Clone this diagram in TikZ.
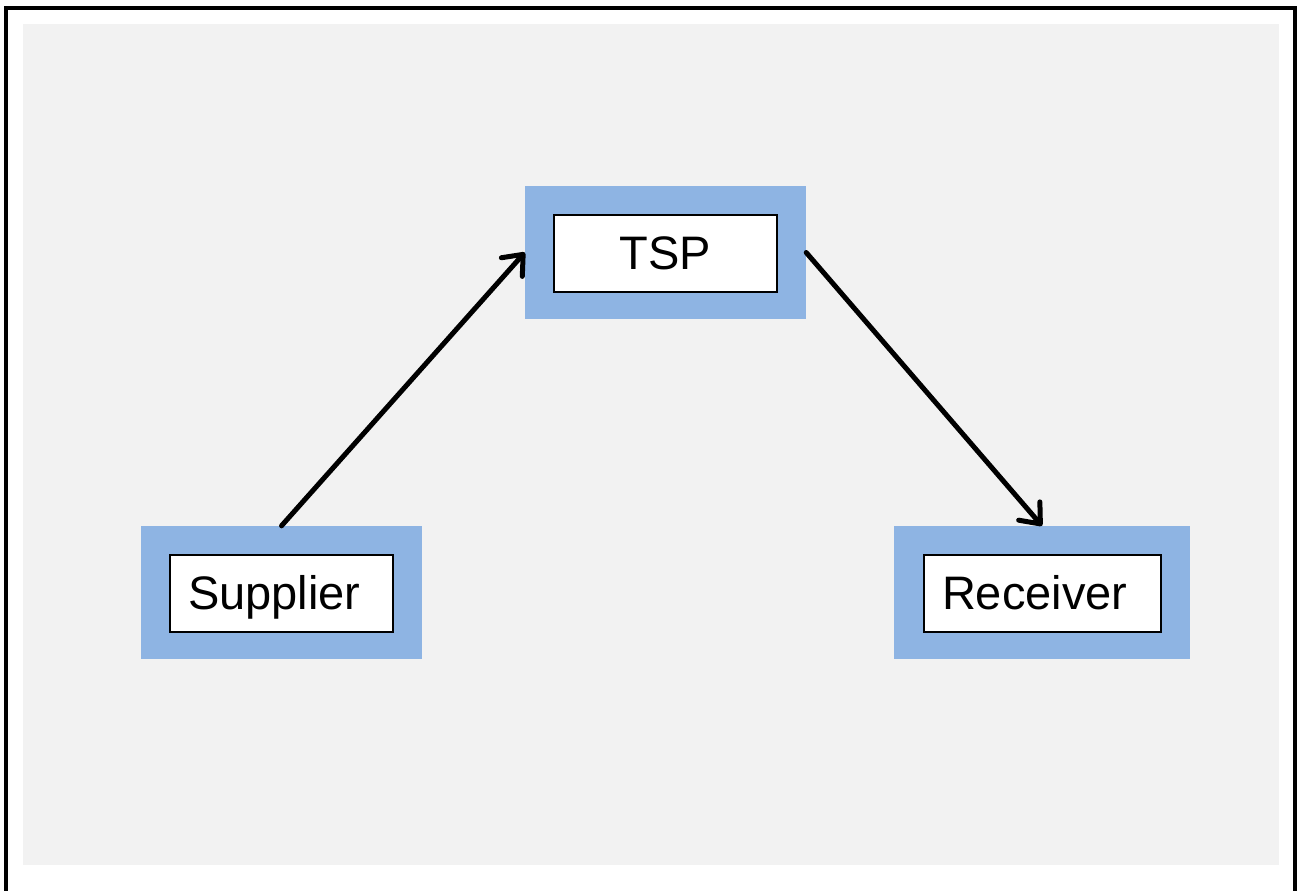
\documentclass[tikz,border=0pt]{standalone}
\usepackage{fontspec}
\setmainfont{Liberation Sans}
\usetikzlibrary{arrows.meta}
\definecolor{panelgray}{HTML}{F2F2F2}
\definecolor{frameblue}{HTML}{8EB4E3}
\tikzset{
  outerbox/.style={fill=frameblue, draw=none, minimum height=133pt, inner sep=0pt},
  innerbox/.style={fill=white, draw=black, line width=2pt, minimum height=77pt,
    text height=40pt, text depth=9pt, inner ysep=0pt,
    font=\fontsize{47}{56}\selectfont},
  flow/.style={line width=5pt, line cap=round,
    -{Straight Barb[length=17pt,width=28pt,line join=round,line cap=round]}}
}
\begin{document}
\begin{tikzpicture}[x=1pt,y=-1pt]
  \useasboundingbox (0,0) rectangle (1298,891);
  \fill[white] (0,0) rectangle (1298,891);
  % frame and panel
  \draw[line width=3.2pt] (6,891) -- (6,8) -- (1295,8) -- (1295,891);
  \fill[panelgray] (23,24) rectangle (1279,865);

  % blue surrounds
  \node[outerbox, minimum width=281pt] (tsp) at (665.5,252.5) {};
  \node[outerbox, minimum width=281pt] (sup) at (281.5,592.5) {};
  \node[outerbox, minimum width=296pt] (rec) at (1042,592.5) {};

  % labelled boxes
  \node[innerbox, minimum width=223pt, inner xsep=0pt, text width=221pt, align=center]
    (tspl) at (665.5,253.5) {TSP};
  \node[innerbox, minimum width=223pt, inner xsep=18pt, text width=187pt, align=left]
    (supl) at (281.5,593.5) {Supplier};
  \node[innerbox, minimum width=237pt, inner xsep=18pt, text width=201pt, align=left]
    (recl) at (1042.5,593.5) {Receiver};

  % flows
  \draw[flow] (sup.north) -- (tsp.west);
  \draw[flow] (tsp.east) -- (rec.north);
\end{tikzpicture}
\end{document}
